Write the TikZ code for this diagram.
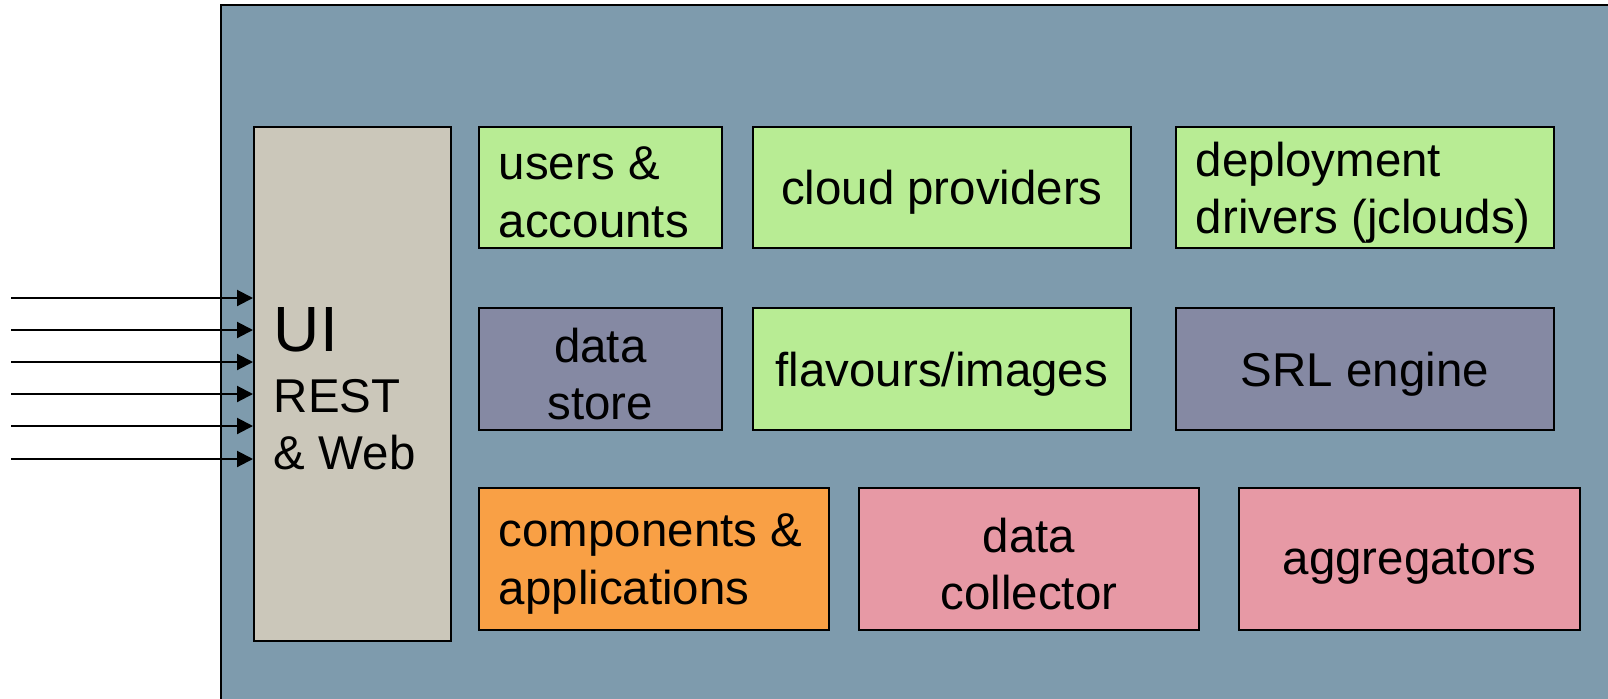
\documentclass[tikz,border=0pt]{standalone}
\usepackage{fontspec}
\setmainfont{Liberation Sans}
\usetikzlibrary{arrows.meta}

\definecolor{frame}{HTML}{7E9BAD}
\definecolor{uibox}{HTML}{CBC7BA}
\definecolor{cfgbox}{HTML}{B8EC94}
\definecolor{corebox}{HTML}{8589A3}
\definecolor{appbox}{HTML}{F9A045}
\definecolor{monbox}{HTML}{E799A5}

\newcommand{\boxfont}{\fontsize{27}{32.6}\selectfont}

\tikzset{
  blk/.style={draw=black, line width=1pt, rectangle, anchor=north west,
    inner xsep=0.4cm, inner ysep=0pt, font=\boxfont,
    execute at end node={\par\vspace*{-0.2cm}}},
  lbox/.style n args={3}{blk, fill=#1, text width=#2, minimum height=#3, align=flush left},
  cbox/.style n args={3}{blk, fill=#1, text width=#2, minimum height=#3, align=flush center},
  sig/.style={-{Triangle[length=0.32cm,width=0.32cm]}, line width=1.2pt}
}

\begin{document}
\begin{tikzpicture}
  \clip (0,0) rectangle (32.16,-13.96);
  \fill[white] (0,0) rectangle (32.16,-13.96);

  % Frame
  \draw[fill=frame, line width=1.1pt] (4.42,-0.10) rectangle (33,-15);

  % UI
  \node[lbox={uibox}{3.14cm}{10.28cm}] (ui) at (5.06,-2.52)
    {{\fontsize{36.4}{40}\selectfont UI}\\[0.08cm] REST\\ \& Web};

  % Inputs
  \foreach \y [count=\i] in {-5.96,-6.60,-7.24,-7.88,-8.52,-9.18} {
    \coordinate (in\i) at (0.22,\y);
    \draw[sig] (in\i) -- (in\i -| ui.west);
  }

  % Row 1
  \node[lbox={cfgbox}{4.06cm}{2.42cm}] (users) at (9.56,-2.52) {users \&\\ accounts};
  \node[cbox={cfgbox}{6.76cm}{2.42cm}] (cloud) at (15.04,-2.52) {cloud providers};
  \node[lbox={cfgbox}{6.76cm}{2.42cm}] (drivers) at (23.50,-2.52) {deployment\\ drivers (jclouds)};

  % Row 2
  \node[cbox={corebox}{4.06cm}{2.44cm}] (store) at (9.56,-6.14) {data\\ store};
  \node[cbox={cfgbox}{6.76cm}{2.44cm}] (flavours) at (15.04,-6.14) {flavours/images};
  \node[cbox={corebox}{6.76cm}{2.44cm}] (srl) at (23.50,-6.14) {SRL engine};

  % Row 3
  \node[lbox={appbox}{6.20cm}{2.84cm}] (comps) at (9.56,-9.74) {components \&\\ applications};
  \node[cbox={monbox}{6.00cm}{2.84cm}] (collector) at (17.16,-9.74) {data\\ collector};
  \node[cbox={monbox}{6.02cm}{2.84cm}] (aggr) at (24.76,-9.74) {aggregators};
\end{tikzpicture}
\end{document}
